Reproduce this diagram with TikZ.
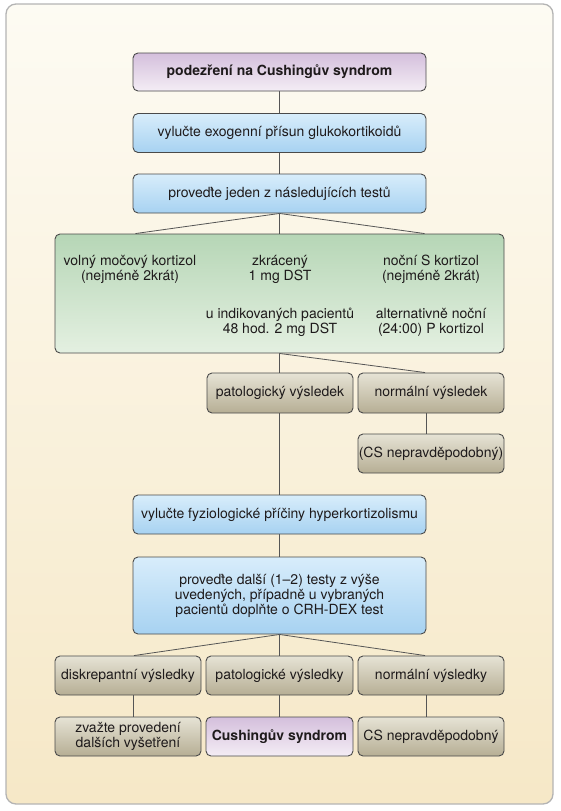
\documentclass[tikz,border=0pt]{standalone}
\usepackage{fontspec}
\setmainfont{TeX Gyre Heros}
\usetikzlibrary{calc}
\pgfdeclarelayer{bg}
\pgfdeclarelayer{lines}
\pgfsetlayers{bg,lines,main}
\definecolor{bgtop}{HTML}{FDFBF3}
\definecolor{bgbot}{HTML}{F6E8C7}
\definecolor{panelline}{HTML}{B4B4B4}
\definecolor{boxline}{HTML}{4A4A4A}
\definecolor{connline}{HTML}{555555}
\definecolor{txt}{HTML}{1E1A1B}
\definecolor{purtop}{HTML}{D4BFDC}
\definecolor{purbot}{HTML}{F4EDF5}
\definecolor{bluetop}{HTML}{D8EDFB}
\definecolor{bluebot}{HTML}{A7D2F1}
\definecolor{greentop}{HTML}{B6D6B6}
\definecolor{greenbot}{HTML}{E4F0E1}
\definecolor{tantop}{HTML}{E6E3D5}
\definecolor{tanbot}{HTML}{B6AE94}
\newcommand{\fs}{\fontsize{14}{15}\selectfont}
\begin{document}
\begin{tikzpicture}[x=1pt,y=1pt,
  box/.style={draw=boxline, line width=0.9pt, rounded corners=5pt, inner sep=0pt,
    align=center, font=\fs, text=txt, minimum width=146, minimum height=39},
  purbox/.style={box, top color=purtop, bottom color=purbot, font=\fs\bfseries},
  bluebox/.style={box, top color=bluetop, bottom color=bluebot, minimum width=293},
  greenbox/.style={box, top color=greentop, bottom color=greenbot},
  tanbox/.style={box, top color=tantop, bottom color=tanbot},
  plain/.style={inner sep=0pt, align=center, font=\fs, text=txt},
  conn/.style={draw=connline, line width=0.8pt},
  panel/.style={draw=panelline, line width=1.3pt, rounded corners=10pt, inner sep=0pt,
    top color=bgtop, bottom color=bgbot}]
\useasboundingbox (0,0) rectangle (560,-811);
\begin{pgfonlayer}{bg}
\node[panel, minimum width=547, minimum height=800] (panel) at (279.5,-404) {};
\end{pgfonlayer}

\node[purbox, minimum width=293, minimum height=38] (n1) at (279.5,-72) {podezření na Cushingův syndrom};
\node[bluebox, minimum height=39] (n2) at (279.5,-133) {vylučte exogenní přísun glukokortikoidů};
\node[bluebox, minimum height=39] (n3) at (279.5,-193.5) {proveďte jeden z následujících testů};
\node[greenbox, minimum width=449, minimum height=119] (g) at (279.5,-293.5) {};
\node[plain] (t1) at (130,-269.5) {volný močový kortizol\\(nejméně 2krát)};
\node[plain] (t2) at (280,-269.5) {zkrácený\\1 mg DST};
\node[plain] (t3) at (431,-269.5) {noční S kortizol\\(nejméně 2krát)};
\node[plain] (t4) at (280,-322.5) {u indikovaných pacientů\\48 hod. 2 mg DST};
\node[plain] (t5) at (431,-322.5) {alternativně noční\\(24:00) P kortizol};

\node[tanbox, minimum height=40] (pv) at (280,-393) {patologický výsledek};
\node[tanbox, minimum height=40] (nv) at (431,-393) {normální výsledek};
\node[tanbox] (cs1) at (431,-453.5) {(CS nepravděpodobný)};

\node[bluebox] (fz) at (279.5,-514.5) {vylučte fyziologické příčiny hyperkortizolismu};
\node[bluebox, minimum height=77] (dl) at (279.5,-595.5) {proveďte další (1–2) testy z výše\\uvedených, případně u vybraných\\pacientů doplňte o CRH-DEX test};

\node[tanbox] (dA) at (128,-675.5) {diskrepantní výsledky};
\node[tanbox, minimum width=147] (pA) at (279.5,-675.5) {patologické výsledky};
\node[tanbox] (nA) at (431,-675.5) {normální výsledky};

\node[tanbox] (dB) at (128,-736.5) {zvažte provedení\\dalších vyšetření};
\node[purbox, minimum width=147] (pB) at (279.5,-736.5) {Cushingův syndrom};
\node[tanbox] (nB) at (431,-736.5) {CS nepravděpodobný};

\begin{pgfonlayer}{lines}
\draw[conn] (n1.south) -- (n2.north);
\draw[conn] (n2.south) -- (n3.north);
\draw[conn] (n3.south) -- (g.north);
\draw[conn] (n3.south) -- ($(g.north)+(-144,0)$);
\draw[conn] (n3.south) -- ($(g.north)+(145,0)$);
\draw[conn] (g.south) -- (fz.north);
\draw[conn] (g.south) -- ($(nv.north)+(-6,0)$);
\draw[conn] ($(nv.south)+(-5,0)$) -- ($(cs1.north)+(-5,0)$);
\draw[conn] (fz.south) -- (dl.north);
\draw[conn] (dl.south) -- (pA.north);
\draw[conn] (dl.south) -- ($(dA.north)+(6,0)$);
\draw[conn] (dl.south) -- ($(nA.north)+(-6,0)$);
\draw[conn] ($(dA.south)+(5,0)$) -- ($(dB.north)+(5,0)$);
\draw[conn] (pA.south) -- (pB.north);
\draw[conn] ($(nA.south)+(-5,0)$) -- ($(nB.north)+(-5,0)$);
\end{pgfonlayer}
\end{tikzpicture}
\end{document}
